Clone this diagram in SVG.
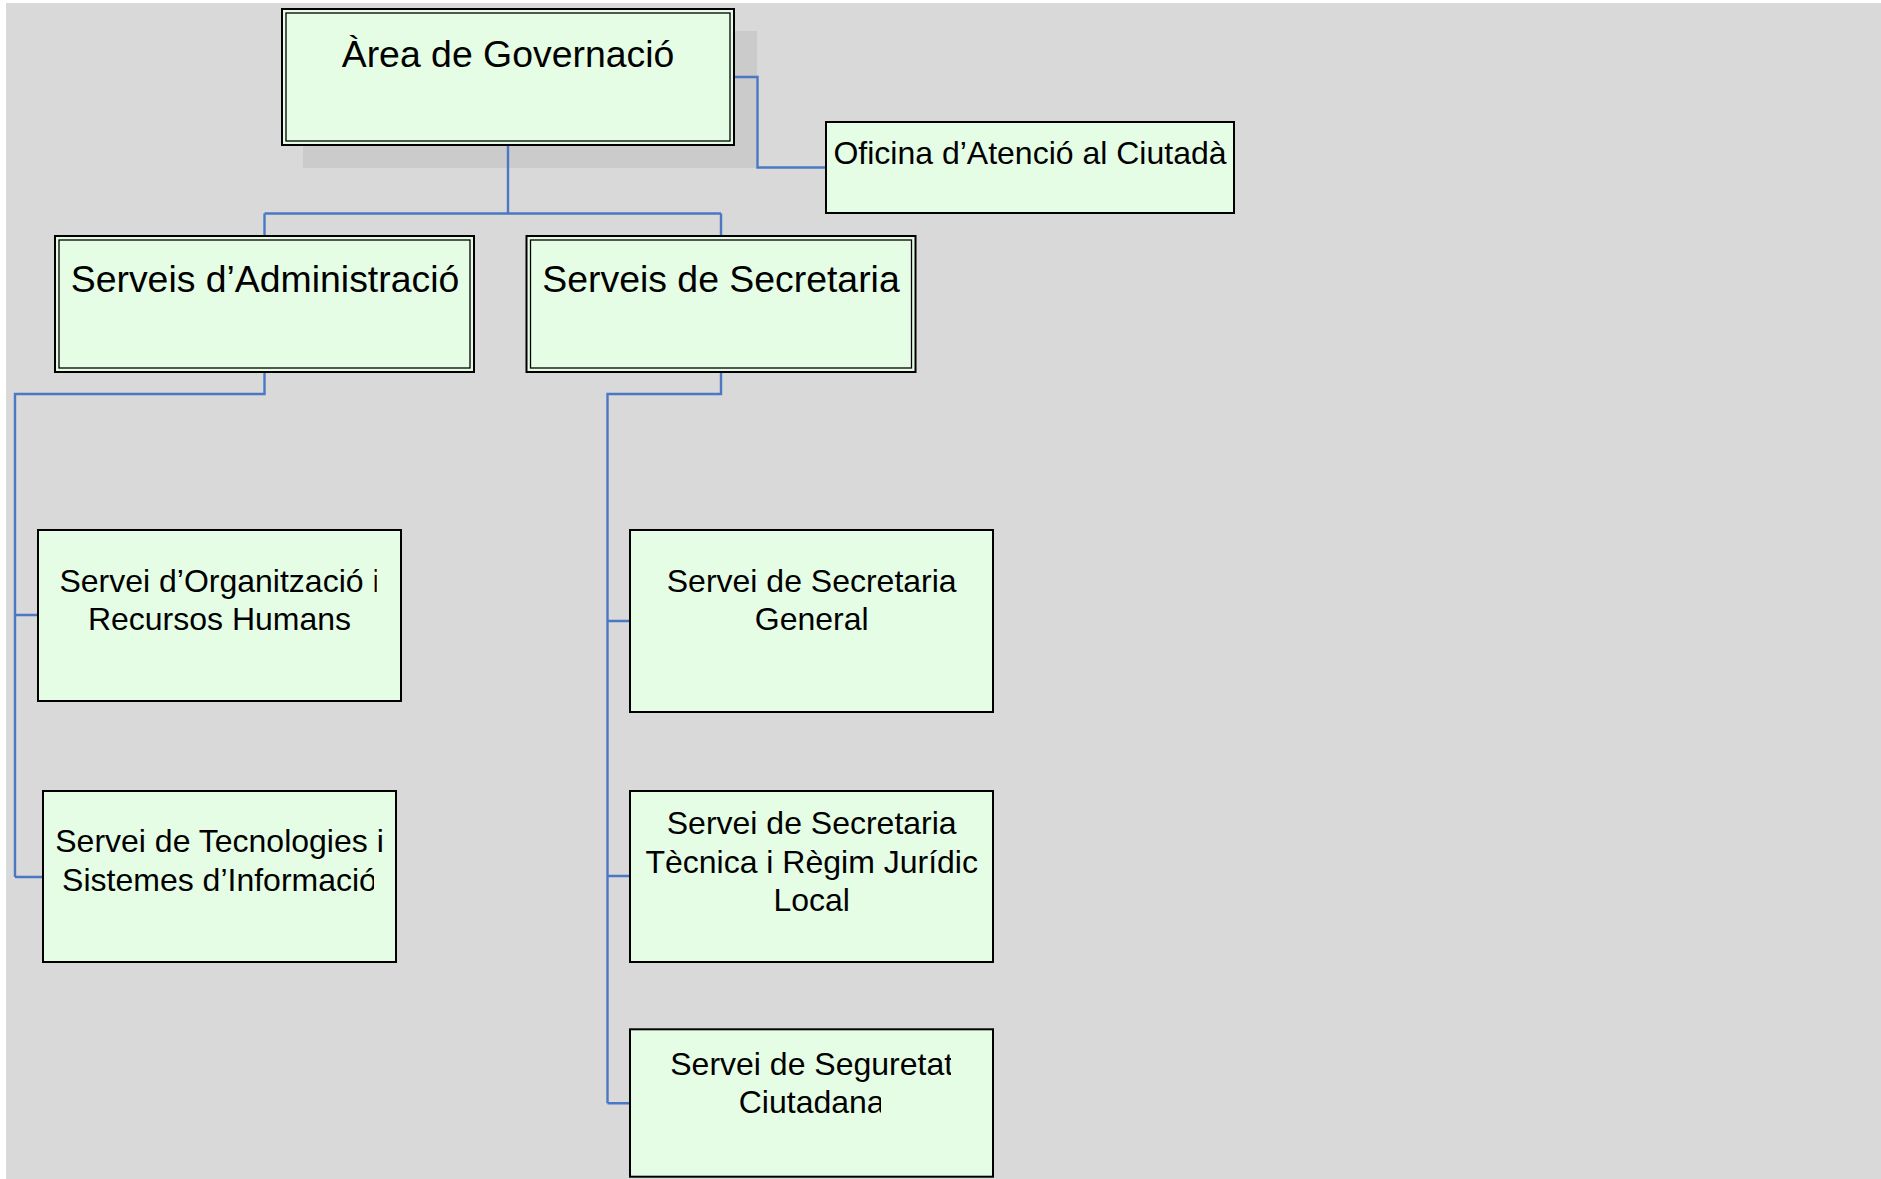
<svg xmlns="http://www.w3.org/2000/svg" width="1881" height="1179" viewBox="0 0 1881 1179">
<style>
.bg{fill:#d9d9d9}
.shadow{fill:#cbcbcb}
.box{fill:#e5fde5;stroke:#000;stroke-width:2}
.inner{fill:none;stroke:#000;stroke-width:1.3}
.conn{fill:none;stroke:#4a78c4;stroke-width:2.4}
text{font-family:"Liberation Sans",Arial,sans-serif;fill:#000;text-anchor:middle}
.big{font-size:37.4px}
.small{font-size:32px}
</style>
<defs>
<clipPath id="cOrg1"><rect x="0" y="0" width="376.7" height="1179"/></clipPath>
<clipPath id="cTec1"><rect x="0" y="0" width="383.3" height="1179"/></clipPath>
<clipPath id="cTec2"><rect x="0" y="0" width="374" height="1179"/></clipPath>
<clipPath id="cSeg1"><rect x="0" y="0" width="951" height="1179"/></clipPath>
<clipPath id="cSeg2"><rect x="0" y="0" width="881" height="1179"/></clipPath>
</defs>
<rect class="bg" x="6" y="3" width="1875" height="1176"/>

<g id="node-area">
<rect class="shadow" x="303" y="31" width="454" height="137"/>
<rect class="box" x="282" y="9" width="452" height="136"/>
<rect class="inner" x="286" y="13" width="444" height="128"/>
<text class="big" x="508" y="66.7">Àrea de Governació</text>
</g>

<g id="node-oficina">
<rect class="box" x="826" y="122" width="408" height="91"/>
<text class="small" x="1030" y="164">Oficina d’Atenció al Ciutadà</text>
</g>

<g id="node-administracio">
<rect class="box" x="55" y="236" width="419" height="136"/>
<rect class="inner" x="59" y="240" width="411" height="128"/>
<text class="big" x="265" y="292">Serveis d’Administració</text>
</g>

<g id="node-secretaria">
<rect class="box" x="526.5" y="236" width="389" height="136"/>
<rect class="inner" x="530.5" y="240" width="381" height="128"/>
<text class="big" x="721" y="292">Serveis de Secretaria</text>
</g>

<g id="node-organitzacio">
<rect class="box" x="38" y="530" width="363" height="171"/>
<text class="small" x="219.5" y="591.7" clip-path="url(#cOrg1)">Servei d’Organització i</text>
<text class="small" x="219.5" y="630">Recursos Humans</text>
</g>

<g id="node-tecnologies">
<rect class="box" x="43" y="791" width="353" height="171"/>
<text class="small" x="219.5" y="852.3" clip-path="url(#cTec1)">Servei de Tecnologies i</text>
<text class="small" x="219.5" y="890.7" clip-path="url(#cTec2)">Sistemes d’Informació</text>
</g>

<g id="node-secretaria-general">
<rect class="box" x="630" y="530" width="363" height="182"/>
<text class="small" x="811.7" y="591.7">Servei de Secretaria</text>
<text class="small" x="811.7" y="630">General</text>
</g>

<g id="node-secretaria-tecnica">
<rect class="box" x="630" y="791" width="363" height="171"/>
<text class="small" x="811.7" y="834.3">Servei de Secretaria</text>
<text class="small" x="811.7" y="872.5">Tècnica i Règim Jurídic</text>
<text class="small" x="811.7" y="910.7">Local</text>
</g>

<g id="node-seguretat">
<rect class="box" x="630" y="1029.3" width="363" height="147.4"/>
<text class="small" x="811.7" y="1075" clip-path="url(#cSeg1)">Servei de Seguretat</text>
<text class="small" x="811.7" y="1113.3" clip-path="url(#cSeg2)">Ciutadana</text>
</g>

<g id="connectors">
<path class="conn" d="M735,77 H757.5 V167.5 H825"/>
<path class="conn" d="M508,146 V213.5 M264.5,213.5 H721 M264.5,213.5 V235 M721,213.5 V235"/>
<path class="conn" d="M264.5,373 V394 H15 V877 M15,615 H37 M15,877 H42"/>
<path class="conn" d="M721,373 V394 H607.5 V1103.3 M607.5,621 H629 M607.5,876 H629 M607.5,1103.3 H629"/>
</g>
</svg>
